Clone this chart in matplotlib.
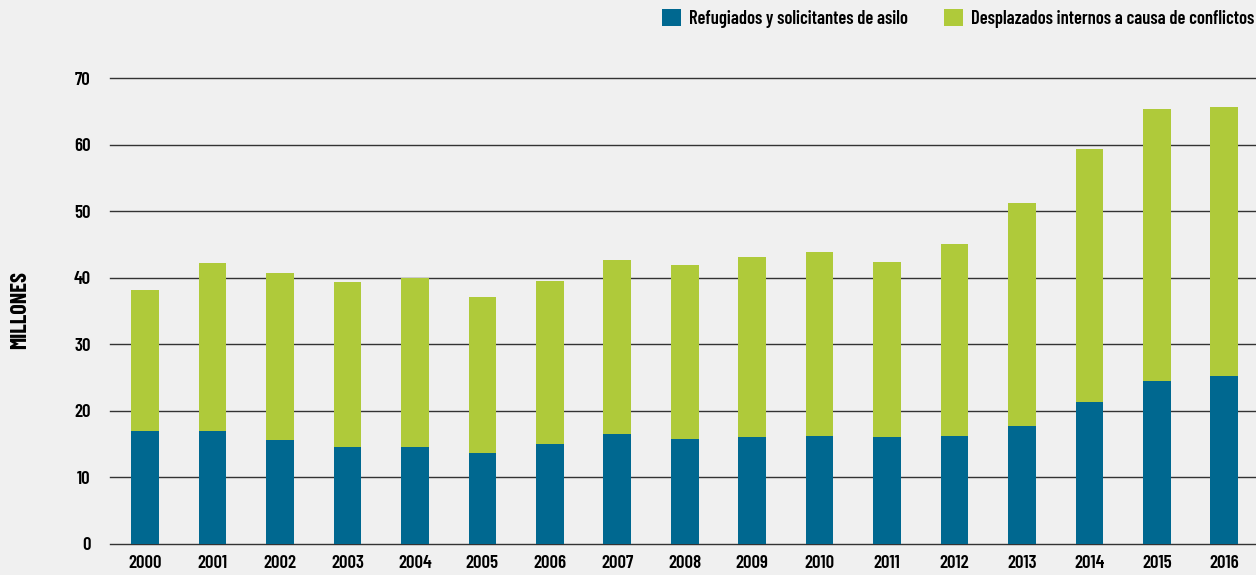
import numpy as np
import matplotlib.pyplot as plt
from matplotlib import font_manager

names = {f.name for f in font_manager.fontManager.ttflist}
if 'Barlow Condensed' in names:
    plt.rcParams['font.family'] = ['Barlow Condensed', 'DejaVu Sans']
else:
    plt.rcParams['font.family'] = ['DejaVu Sans']
    plt.rcParams['font.stretch'] = 'condensed'

years = ['2000', '2001', '2002', '2003', '2004', '2005', '2006', '2007', '2008',
         '2009', '2010', '2011', '2012', '2013', '2014', '2015', '2016']
refugiados = [17.0, 17.0, 15.6, 14.6, 14.6, 13.7, 15.0, 16.5, 15.8,
              16.1, 16.2, 16.1, 16.2, 17.7, 21.3, 24.5, 25.3]
total = [38.2, 42.2, 40.7, 39.4, 40.0, 37.1, 39.5, 42.7, 41.9,
         43.1, 43.9, 42.4, 45.1, 51.2, 59.3, 65.4, 65.6]
desplazados = [t - r for t, r in zip(total, refugiados)]

blue = '#006890'
green = '#afca3a'
bg = '#f0f0f0'

fig = plt.figure(figsize=(12.56, 5.75), dpi=100, facecolor=bg)
ax = fig.add_axes([0.0876, 0.054, 0.9124, 0.81])
ax.set_facecolor(bg)

x = np.arange(len(years))
ax.bar(x, refugiados, width=0.41, color=blue, zorder=3,
       label='Refugiados y solicitantes de asilo')
ax.bar(x, desplazados, width=0.41, bottom=refugiados, color=green, zorder=3,
       label='Desplazados internos a causa de conflictos')

ax.set_xlim(-0.52, 16.47)
ax.set_ylim(0, 70)
ax.set_yticks(range(0, 71, 10))
ax.yaxis.grid(True, color='#333333', linewidth=1, zorder=0)
for gl in ax.yaxis.get_gridlines():
    gl.set_clip_on(False)
ax.set_axisbelow(True)
for s in ax.spines.values():
    s.set_visible(False)
ax.tick_params(length=0, labelsize=13.5)
ax.tick_params(axis='y', pad=14)
ax.tick_params(axis='x', pad=8)
ax.set_xticks(x)
ax.set_xticklabels(years, fontweight='semibold')
for lab in ax.get_yticklabels():
    lab.set_fontweight('semibold')

fig.text(0.016, 0.461, 'MILLONES', rotation=90, ha='center', va='center',
         fontsize=16, fontweight='bold')

fig.legend(loc='upper right', bbox_to_anchor=(1254 / 1256, 1 - 9 / 575), ncol=2,
           frameon=False, borderpad=0, borderaxespad=0,
           prop={'size': 13.3, 'weight': 'semibold'}, handlelength=1.03,
           handleheight=1.08, columnspacing=1.95, handletextpad=0.43)

fig.savefig('out.png', dpi=100, facecolor=bg)
